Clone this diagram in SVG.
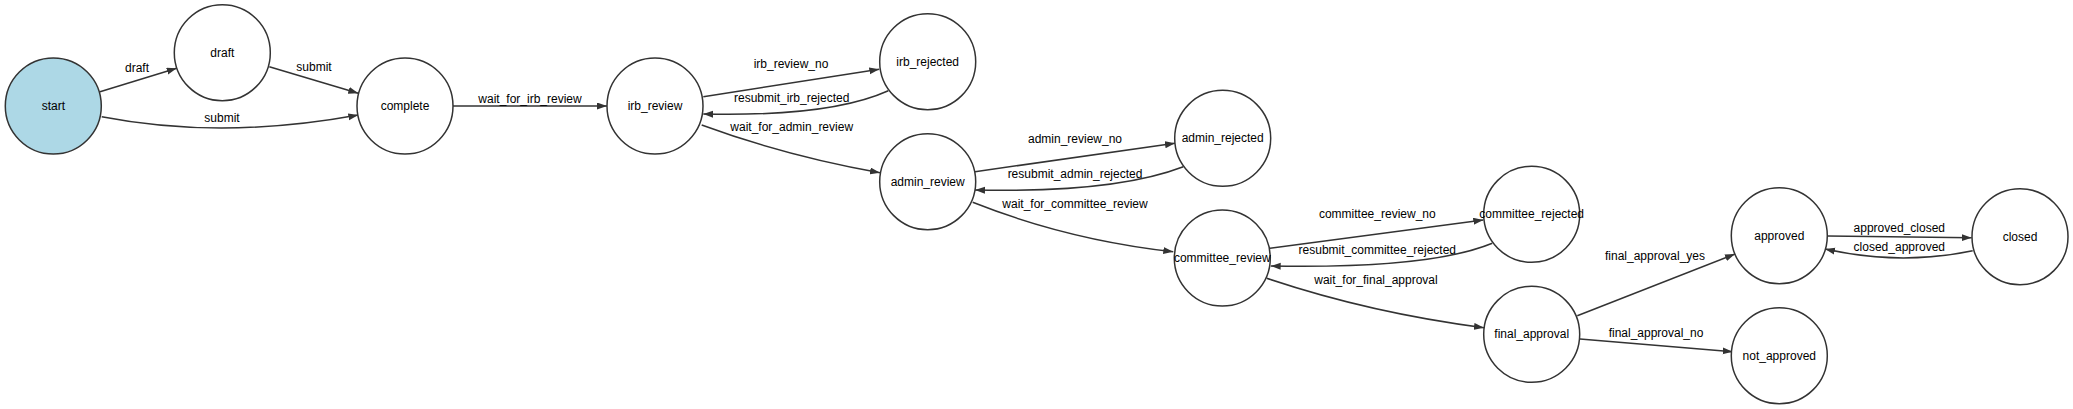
<svg xmlns="http://www.w3.org/2000/svg" width="2073" height="409" viewBox="0 0 2073 409">
<style>
.node circle{fill:#fff;stroke:#333;stroke-width:1.5}
.node text{font-family:"Liberation Sans",Arial,sans-serif;font-size:12px;fill:#000;text-anchor:middle}
.edge path{fill:none;stroke:#333;stroke-width:1.5;marker-end:url(#arr)}
.lbl{font-family:"Liberation Sans",Arial,sans-serif;font-size:12px;fill:#000;text-anchor:middle}
</style>
<defs>
<marker id="arr" markerUnits="userSpaceOnUse" markerWidth="10" markerHeight="8" refX="10" refY="3.5" orient="auto">
<path d="M0,0 L10,3.5 L0,7 z" fill="#333"/>
</marker>
</defs>
<rect width="2073" height="409" fill="#fff"/>
<g id="connectors">
<g class="edge"><path d="M100,91.7 L176.7,68.3"/><text class="lbl" x="137" y="72">draft</text></g>
<g class="edge"><path d="M101.7,116.7 Q222,140 358.3,115"/><text class="lbl" x="222" y="122">submit</text></g>
<g class="edge"><path d="M269.3,66.7 L358.3,93.3"/><text class="lbl" x="314" y="71">submit</text></g>
<g class="edge"><path d="M453,106 L607,106"/><text class="lbl" x="530" y="103">wait_for_irb_review</text></g>
<g class="edge"><path d="M703.3,96.7 L879.3,69.3"/><text class="lbl" x="791" y="67.5">irb_review_no</text></g>
<g class="edge"><path d="M888.3,90.7 Q830,117 703.3,114"/><text class="lbl" x="791.7" y="102">resubmit_irb_rejected</text></g>
<g class="edge"><path d="M701.7,125 Q786,156 880,172.7"/><text class="lbl" x="791.7" y="131">wait_for_admin_review</text></g>
<g class="edge"><path d="M975,171.7 L1175,143.3"/><text class="lbl" x="1075" y="143">admin_review_no</text></g>
<g class="edge"><path d="M1183.3,166.7 Q1115,193 975,190"/><text class="lbl" x="1075" y="177.5">resubmit_admin_rejected</text></g>
<g class="edge"><path d="M972.7,202.3 Q1068,240 1173.3,251.7"/><text class="lbl" x="1075" y="208">wait_for_committee_review</text></g>
<g class="edge"><path d="M1270,248.3 L1483.3,220"/><text class="lbl" x="1377.3" y="217.5">committee_review_no</text></g>
<g class="edge"><path d="M1492.3,243.3 Q1430,269 1270.7,266"/><text class="lbl" x="1377.3" y="254">resubmit_committee_rejected</text></g>
<g class="edge"><path d="M1266.7,278.3 Q1370,313 1484,327.7"/><text class="lbl" x="1376" y="284">wait_for_final_approval</text></g>
<g class="edge"><path d="M1577.3,315.7 L1735,254"/><text class="lbl" x="1655" y="260">final_approval_yes</text></g>
<g class="edge"><path d="M1580,339 L1732.7,351.7"/><text class="lbl" x="1656" y="336.5">final_approval_no</text></g>
<g class="edge"><path d="M1827.7,236 L1971.7,237.7"/><text class="lbl" x="1899.3" y="231.5">approved_closed</text></g>
<g class="edge"><path d="M1972.7,250.7 Q1900,266 1825,249"/><text class="lbl" x="1899.3" y="250.5">closed_approved</text></g>
</g>
<g id="start" class="node"><circle cx="53.3" cy="106" r="48" style="fill:#add8e6"/><text x="53.3" y="110">start</text></g>
<g id="draft" class="node"><circle cx="222.3" cy="52.7" r="48"/><text x="222.3" y="56.7">draft</text></g>
<g id="complete" class="node"><circle cx="405" cy="106" r="48"/><text x="405" y="110">complete</text></g>
<g id="irb_review" class="node"><circle cx="655" cy="106" r="48"/><text x="655" y="110">irb_review</text></g>
<g id="irb_rejected" class="node"><circle cx="927.7" cy="61.7" r="48"/><text x="927.7" y="65.7">irb_rejected</text></g>
<g id="admin_review" class="node"><circle cx="927.7" cy="181.7" r="48"/><text x="927.7" y="185.7">admin_review</text></g>
<g id="admin_rejected" class="node"><circle cx="1222.7" cy="138.3" r="48"/><text x="1222.7" y="142.3">admin_rejected</text></g>
<g id="committee_review" class="node"><circle cx="1222.3" cy="258" r="48"/><text x="1222.3" y="262">committee_review</text></g>
<g id="committee_rejected" class="node"><circle cx="1531.7" cy="214.3" r="48"/><text x="1531.7" y="218.3">committee_rejected</text></g>
<g id="final_approval" class="node"><circle cx="1531.7" cy="334.3" r="48"/><text x="1531.7" y="338.3">final_approval</text></g>
<g id="approved" class="node"><circle cx="1779.3" cy="235.7" r="48"/><text x="1779.3" y="239.7">approved</text></g>
<g id="closed" class="node"><circle cx="2020" cy="236.7" r="48"/><text x="2020" y="240.7">closed</text></g>
<g id="not_approved" class="node"><circle cx="1779.3" cy="355.7" r="48"/><text x="1779.3" y="359.7">not_approved</text></g>
</svg>
